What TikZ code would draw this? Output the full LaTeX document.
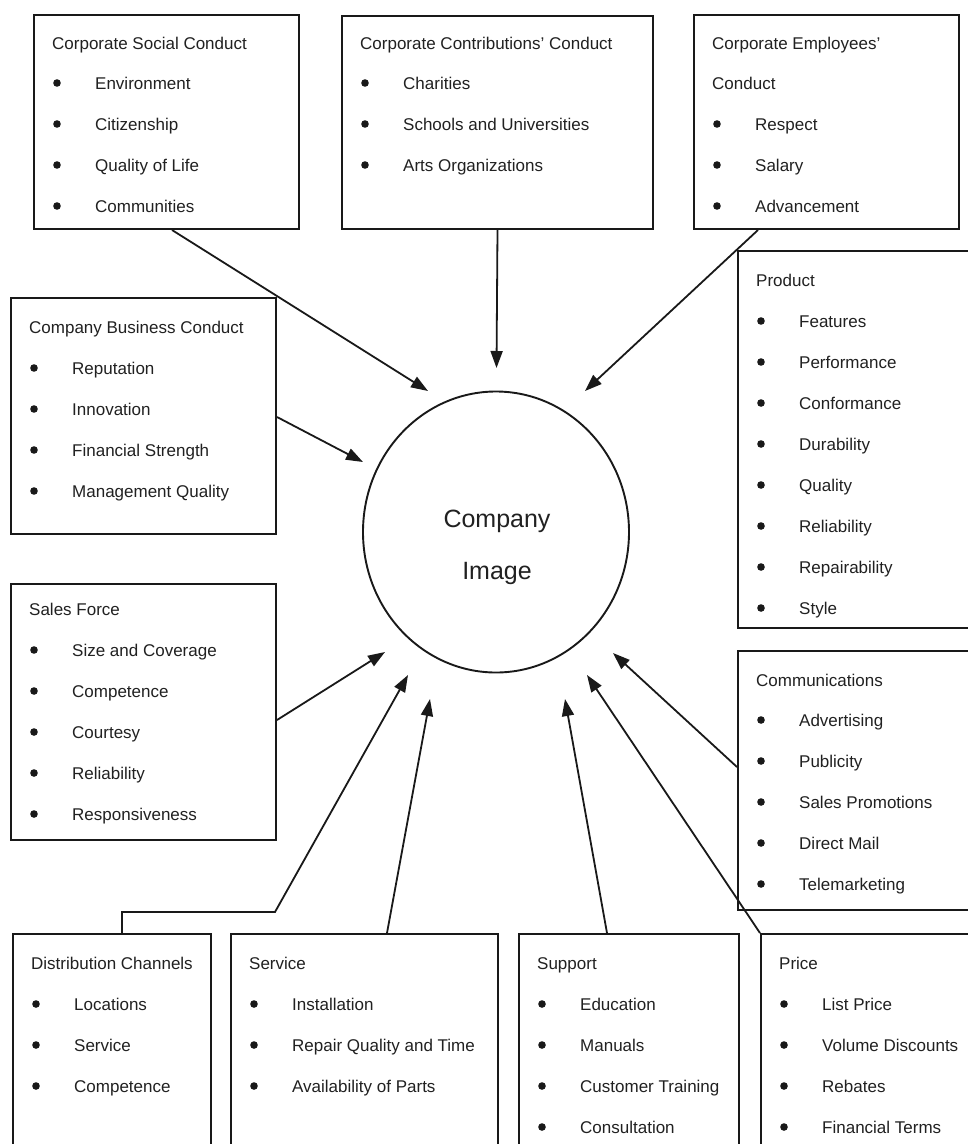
\documentclass[tikz,border=0pt]{standalone}
\usepackage{fontspec}
\setmainfont{Liberation Sans}
\usetikzlibrary{arrows.meta,shapes.geometric}
\definecolor{ink}{gray}{0.1}
\definecolor{txt}{gray}{0.13}
\tikzset{
  catbox/.style={draw=ink, line width=2pt, rectangle, inner sep=0pt, anchor=north west},
  label/.style={text=txt, font=\fontsize{17}{20}\selectfont, inner sep=0pt, anchor=base west},
  dot/.style={fill=ink},
  link/.style={draw=ink, line width=1.8pt, -{Triangle[length=17pt,width=12pt]}},
  hub/.style={draw=ink, line width=1.9pt, ellipse, inner sep=0pt, minimum width=266pt, minimum height=281pt},
  hubtext/.style={text=txt, font=\fontsize{25}{30}\selectfont, inner sep=0pt, anchor=base},
}
% #1 name, #2 left, #3 top, #4 right, #5 bottom, #6 title y, #7 first item y, #8 title, #9 items
\newcommand\catbox[9]{%
  \pgfmathsetmacro\bw{#4-#2}\pgfmathsetmacro\bh{#5-#3}%
  \node[catbox, minimum width=\bw pt, minimum height=\bh pt] (#1) at (#2,#3) {};
  \node[label] (#1-title) at (#2+19,#6+6) {#8};
  \foreach \itm [count=\i] in {#9} {
    \pgfmathsetmacro\yy{#7+41*(\i-1)}
    \fill[dot] (#2+24,\yy) circle (3.8pt);
    \node[label] (#1-\i) at (#2+62,\yy+6) {\itm};
  }
}
\begin{document}
\begin{tikzpicture}[x=1pt, y=-1pt]
\useasboundingbox (0,0) rectangle (968,1144);
\clip (0,0) rectangle (968,1144);
\fill[white] (0,0) rectangle (968,1144);

% category boxes
\catbox{soc}{33}{14}{298}{228}{43}{83}{Corporate Social Conduct}{Environment,Citizenship,Quality of Life,Communities}
\catbox{con}{341}{15}{652}{228}{43}{83}{Corporate Contributions' Conduct}{Charities,Schools and Universities,Arts Organizations}
\catbox{emp}{693}{14}{958}{228}{43}{124}{Corporate Employees'}{Respect,Salary,Advancement}
\node[label] (emp-title2) at (712,89) {Conduct};
\catbox{bus}{10}{297}{275}{533}{327}{368}{Company Business Conduct}{Reputation,Innovation,Financial Strength,Management Quality}
\catbox{prod}{737}{250}{990}{627}{280}{321}{Product}{Features,Performance,Conformance,Durability,Quality,Reliability,Repairability,Style}
\catbox{sal}{10}{583}{275}{839}{609}{650}{Sales Force}{Size and Coverage,Competence,Courtesy,Reliability,Responsiveness}
\catbox{com}{737}{650}{990}{909}{680}{720}{Communications}{Advertising,Publicity,Sales Promotions,Direct Mail,Telemarketing}
\catbox{dis}{12}{933}{210}{1160}{963}{1004}{Distribution Channels}{Locations,Service,Competence}
\catbox{ser}{230}{933}{497}{1160}{963}{1004}{Service}{Installation,Repair Quality and Time,Availability of Parts}
\catbox{sup}{518}{933}{738}{1160}{963}{1004}{Support}{Education,Manuals,Customer Training,Consultation}
\catbox{pri}{760}{933}{990}{1160}{963}{1004}{Price}{List Price,Volume Discounts,Rebates,Financial Terms}

% central image
\node[hub] (img) at (496,532) {};
\node[hubtext] (img-a) at (497,527) {Company};
\node[hubtext] (img-b) at (497,579) {Image};

% arrow tips around the hub
\coordinate (tsoc) at (428,391);
\coordinate (tcon) at (496.5,368);
\coordinate (temp) at (585,391);
\coordinate (tbus) at (363,462);
\coordinate (tsal) at (385,652);
\coordinate (tdis) at (408,675);
\coordinate (tser) at (430,699);
\coordinate (tsup) at (565,699);
\coordinate (tpri) at (587,675);
\coordinate (tcom) at (613,653);
\coordinate (delbow) at (275,912);

% connectors
\draw[link] ([xshift=139pt]soc.south west) -- (tsoc);
\draw[link] (con.south) -- (tcon);
\draw[link] ([xshift=65pt]emp.south west) -- (temp);
\draw[link] ([yshift=-120pt]bus.north east) -- (tbus);
\draw[link] ([yshift=-137pt]sal.north east) -- (tsal);
\draw[link] ([xshift=110pt]dis.north west) |- (delbow) -- (tdis);
\draw[link] ([xshift=157pt]ser.north west) -- (tser);
\draw[link] ([xshift=89pt]sup.north west) -- (tsup);
\draw[link] (pri.north west) -- (tpri);
\draw[link] ([yshift=-117pt]com.north west) -- (tcom);
\end{tikzpicture}
\end{document}
